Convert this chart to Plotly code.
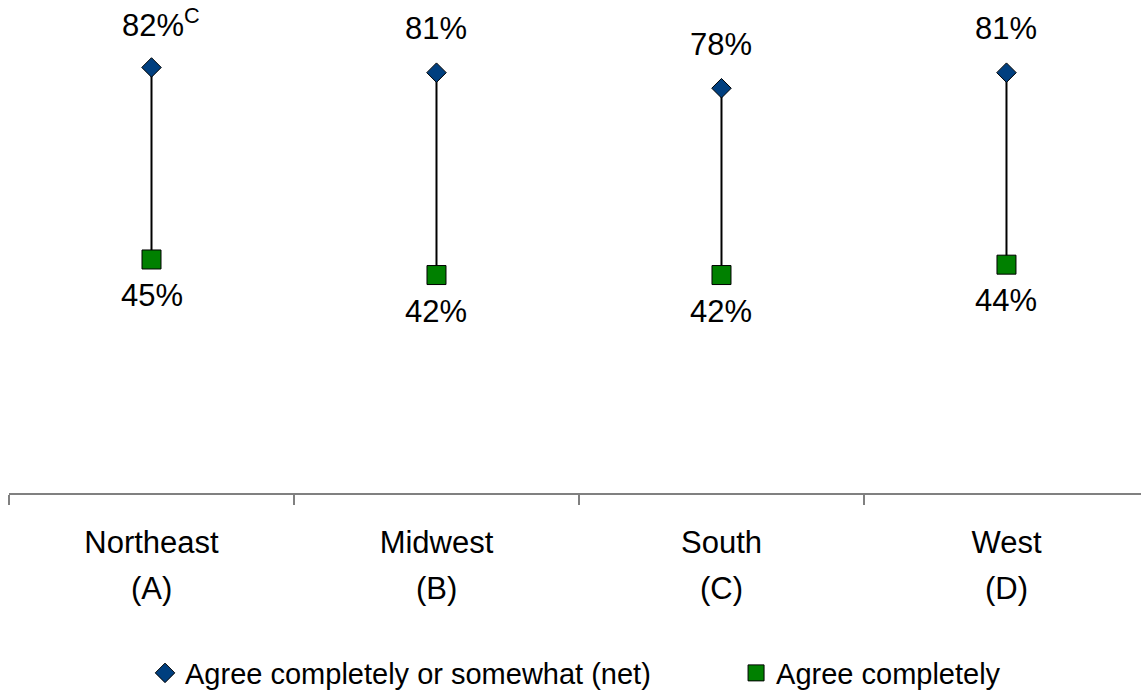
import plotly.graph_objects as go

categories = ["Northeast", "Midwest", "South", "West"]
category_letters = ["(A)", "(B)", "(C)", "(D)"]
net_values = [82, 81, 78, 81]
net_sig = ["C", "", "", ""]
complete_values = [45, 42, 42, 44]

FONT = "Liberation Sans, Arial, sans-serif"

fig = go.Figure()

# connector lines
lx, ly = [], []
for c, a, b in zip(categories, net_values, complete_values):
    lx += [c, c, None]
    ly += [a, b, None]
fig.add_trace(go.Scatter(x=lx, y=ly, mode="lines", line=dict(color="black", width=2),
                         showlegend=False, hoverinfo="skip"))

fig.add_trace(go.Scatter(
    x=categories, y=net_values, mode="markers",
    name="Agree completely or somewhat (net)", legend="legend",
    marker=dict(symbol="diamond", size=15, color="#003F7F", line=dict(color="black", width=1)),
))
fig.add_trace(go.Scatter(
    x=categories, y=complete_values, mode="markers",
    name="Agree completely", legend="legend2",
    marker=dict(symbol="square", size=19, color="#008000", line=dict(color="black", width=1)),
))

for c, v, s in zip(categories, net_values, net_sig):
    txt = f"{v}%" + (f"<sup>{s}</sup>" if s else "")
    fig.add_annotation(x=c, y=v, text=txt, showarrow=False, yshift=44,
                       xshift=(9 if s else 0),
                       font=dict(family=FONT, size=31, color="black"))
for c, v in zip(categories, complete_values):
    fig.add_annotation(x=c, y=v, text=f"{v}%", showarrow=False, yshift=-36,
                       font=dict(family=FONT, size=31, color="black"))

for c, l in zip(categories, category_letters):
    fig.add_annotation(x=c, y=0, yref="paper", text=l, showarrow=False,
                       yanchor="middle", yshift=-95,
                       font=dict(family=FONT, size=31, color="black"))

legend_common = dict(orientation="h", xanchor="left", xref="container",
                     y=0.0246, yanchor="middle", yref="container",
                     font=dict(family=FONT, size=29, color="black"), itemwidth=30,
                     bgcolor="rgba(0,0,0,0)")

fig.update_layout(
    width=1141, height=690,
    margin=dict(l=9, r=0, t=0, b=197, autoexpand=False),
    paper_bgcolor="white", plot_bgcolor="white",
    font=dict(family=FONT, size=31, color="black"),
    showlegend=True,
    legend=dict(x=0.1271, **legend_common),
    legend2=dict(x=0.6451, **legend_common),
    xaxis=dict(
        type="category", categoryorder="array", categoryarray=categories,
        tickmode="array", tickvals=categories, ticktext=categories,
        tickson="boundaries", ticks="outside", ticklen=10, tickcolor="#808080", tickwidth=2,
        showline=True, linecolor="#808080", linewidth=2, automargin=False,
        ticklabelstandoff=21,
        showgrid=False, zeroline=False, range=[-0.5, 3.472],
        tickfont=dict(family=FONT, size=31, color="black"),
    ),
    yaxis=dict(range=[0, 95], visible=False, showgrid=False, zeroline=False),
)

fig.write_html("out.html", config={"displayModeBar": False},
               post_script="document.body.style.margin='0';")
